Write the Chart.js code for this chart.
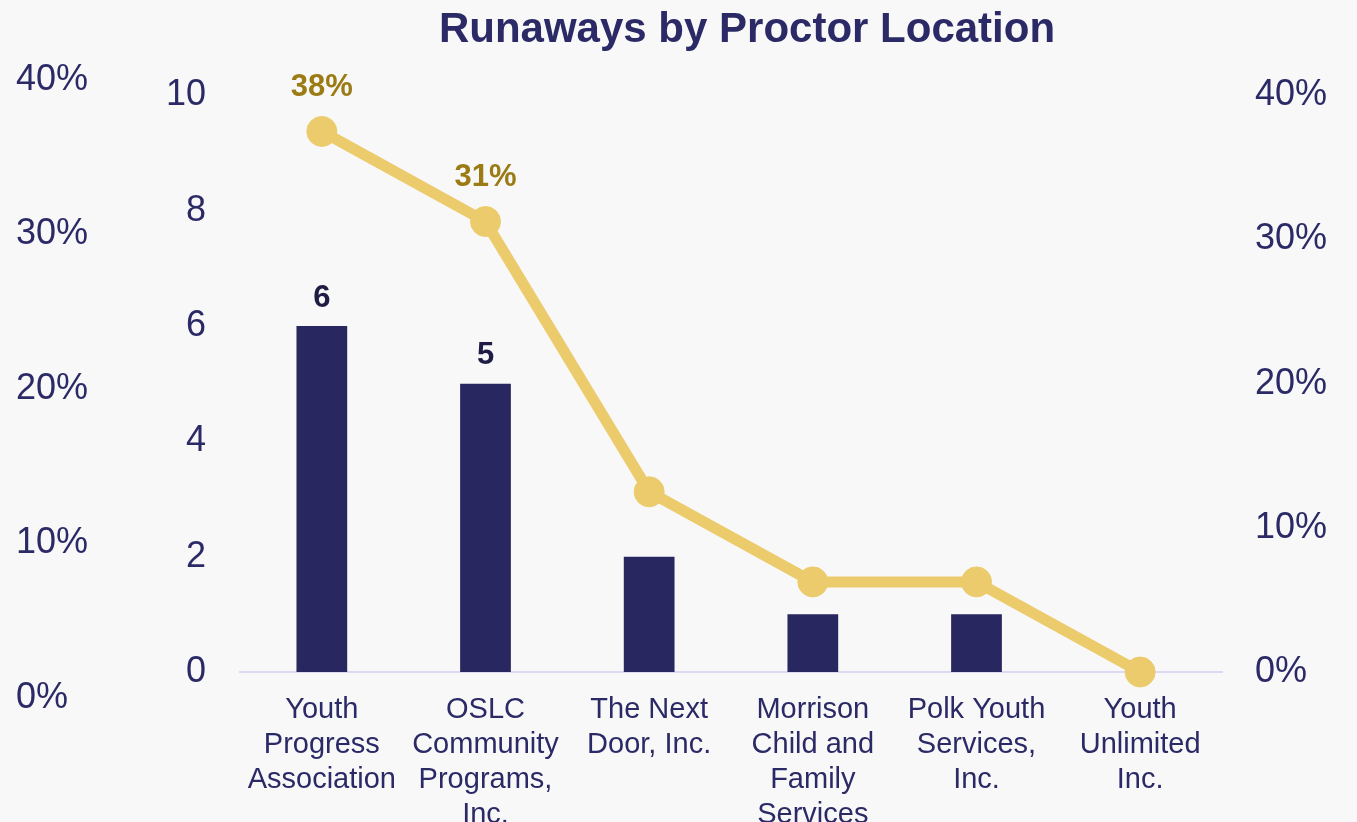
<!DOCTYPE html>
<html>
<head>
<meta charset="utf-8">
<script src="https://cdn.jsdelivr.net/npm/chart.js@4"></script>
<style>
  body { margin: 0; background: #f8f8f8; }
  #wrap { position: relative; width: 1357px; height: 822px; }
  #main { position: absolute; left: 0; top: 0; }
  #side { position: absolute; left: 0; top: 0; }
</style>
</head>
<body>
<div id="wrap">
  <canvas id="main" width="1357" height="822"></canvas>
  <canvas id="side" width="130" height="822"></canvas>
</div>
<script>
const locations = [
  ['Youth', 'Progress', 'Association'],
  ['OSLC', 'Community', 'Programs,', 'Inc.'],
  ['The Next', 'Door, Inc.'],
  ['Morrison', 'Child and', 'Family', 'Services'],
  ['Polk Youth', 'Services,', 'Inc.'],
  ['Youth', 'Unlimited', 'Inc.']
]
const runaways = [6, 5, 2, 1, 1, 0]
const percentOfTotal = [37.5, 31.25, 12.5, 6.25, 6.25, 0]
const labelled = [0, 1]   // only the first two get value labels
const countTicks = [0, 2, 4, 6, 8, 10]
const pctTicks = [0, 10, 20, 30, 40]

const navy = '#29275f'
const textNavy = '#2b2a66'
const gold = '#ebcb6b'
const font = '"Liberation Sans", Arial, sans-serif'

Chart.defaults.font.family = font

// draws the numbers above bars / points
const valueLabels = {
  id: 'valueLabels',
  afterDatasetsDraw(chart) {
    const ctx = chart.ctx
    ctx.save()
    ctx.textAlign = 'center'
    ctx.textBaseline = 'middle'
    chart.data.datasets.forEach((ds, i) => {
      const meta = chart.getDatasetMeta(i)
      meta.data.forEach((el, j) => {
        if (!labelled.includes(j)) return
        if (ds.type === 'line') {
          ctx.fillStyle = '#9b7b14'
          ctx.font = 'bold 31px ' + font
          ctx.fillText(Math.round(ds.data[j]) + '%', el.x, el.y - 44)
        } else {
          ctx.fillStyle = '#1f1d45'
          ctx.font = 'bold 31px ' + font
          ctx.fillText(ds.data[j], el.x, el.y - 28)
        }
      })
    })
    ctx.restore()
  }
}

const chart = new Chart(document.getElementById('main'), {
  type: 'bar',
  data: {
    labels: locations,
    datasets: [{
      type: 'line',
      label: '% of runaways',
      data: percentOfTotal,
      yAxisID: 'y1',
      borderColor: gold,
      backgroundColor: gold,
      borderWidth: 11,
      pointRadius: 15,
      pointBorderWidth: 1,
      pointBackgroundColor: gold,
      pointBorderColor: gold,
      clip: false,
      order: 0
    }, {
      type: 'bar',
      label: 'Runaways',
      data: runaways,
      yAxisID: 'y',
      backgroundColor: navy,
      barPercentage: 0.31,
      categoryPercentage: 1,
      order: 1
    }]
  },
  options: {
    responsive: false,
    animation: false,
    layout: { padding: { left: 137, right: 0, top: 0, bottom: 0 } },
    plugins: {
      legend: { display: false },
      tooltip: { enabled: false },
      title: {
        display: true,
        text: 'Runaways by Proctor Location',
        color: textNavy,
        font: { size: 42, weight: 'bold' },
        padding: { top: 5, bottom: 40 }
      }
    },
    scales: {
      x: {
        grid: { display: false, drawTicks: false },
        border: { display: true, color: '#dcd9f2', width: 2 },
        ticks: {
          color: textNavy,
          font: { size: 29 },
          maxRotation: 0,
          minRotation: 0,
          autoSkip: false,
          padding: 21
        },
        afterFit: s => { s.height = 150 }
      },
      y: {
        position: 'left',
        min: 0,
        max: 10,
        afterBuildTicks: s => { s.ticks = countTicks.map(v => ({ value: v })) },
        grid: { display: false },
        border: { display: false },
        ticks: { color: textNavy, font: { size: 36 }, padding: 26 },
        afterFit: s => { s.width = 103 }
      },
      y1: {
        position: 'right',
        min: 0,
        max: 40,
        afterBuildTicks: s => { s.ticks = pctTicks.map(v => ({ value: v })) },
        grid: { display: false },
        border: { display: false },
        ticks: { color: textNavy, font: { size: 36 }, padding: 25, callback: v => v + '%' },
        afterFit: s => { s.width = 135 }
      }
    }
  },
  plugins: [valueLabels]
})

// the extra percent axis on the far left, taller than the plot
const side = new Chart(document.getElementById('side'), {
  type: 'line',
  data: { labels: [], datasets: [] },
  options: {
    responsive: false,
    animation: false,
    layout: { padding: { left: 16, right: 0, top: 80, bottom: 124 } },
    plugins: { legend: { display: false }, tooltip: { enabled: false } },
    scales: {
      x: { display: false },
      y: {
        position: 'left',
        min: 0,
        max: 40,
        afterBuildTicks: s => { s.ticks = pctTicks.map(v => ({ value: v })) },
        grid: { display: false },
        border: { display: false },
        ticks: { color: textNavy, font: { size: 36 }, crossAlign: 'far', callback: v => v + '%' },
        afterFit: s => { s.width = 110 }
      }
    }
  }
})
</script>
</body>
</html>
